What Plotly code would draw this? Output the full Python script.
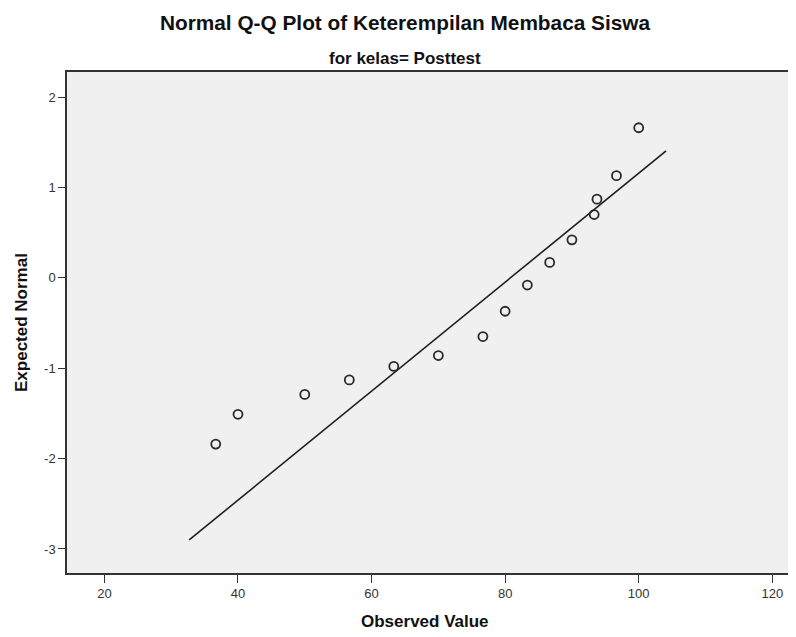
import plotly.graph_objects as go

observed = [36.67, 40.0, 50.0, 56.67, 63.33, 70.0, 76.67, 80.0, 83.33, 86.67, 90.0, 93.33, 93.75, 96.67, 100.0]
expected = [-1.84, -1.51, -1.29, -1.13, -0.98, -0.86, -0.65, -0.37, -0.08, 0.17, 0.42, 0.70, 0.87, 1.13, 1.66]
line_x = [32.7, 104.1]
line_y = [-2.90, 1.405]
x_ticks = [20, 40, 60, 80, 100, 120]
y_ticks = [-3, -2, -1, 0, 1, 2]
y_tick_labels = ["-3", "-2", "-1", "0", "1", "2"]

font = "Liberation Sans, Arial, sans-serif"

fig = go.Figure()
fig.add_trace(go.Scatter(x=line_x, y=line_y, mode="lines",
                         line=dict(color="#1e1e1e", width=1.6), hoverinfo="skip"))
fig.add_trace(go.Scatter(x=observed, y=expected, mode="markers",
                         marker=dict(symbol="circle-open", size=9, color="#2a2a2a",
                                     line=dict(width=1.8, color="#2a2a2a"))))

# page body has an 8px margin, so the figure is sized to fill the rest of the window
fig.update_layout(
    width=788, height=629,
    margin=dict(l=59, r=1, t=64, b=64, autoexpand=False),
    paper_bgcolor="white", plot_bgcolor="#f0f0f0",
    showlegend=False,
    font=dict(family=font, color="#222222"),
)
fig.add_annotation(text="<b>Normal Q-Q Plot of Keterempilan Membaca Siswa</b>",
                   xref="paper", yref="paper", x=0.464, y=1.0998, yanchor="middle",
                   showarrow=False, font=dict(size=20.8, family=font, color="#111"))
fig.add_annotation(text="<b>for kelas= Posttest</b>",
                   xref="paper", yref="paper", x=0.464, y=1.027, yanchor="middle",
                   showarrow=False, font=dict(size=17, family=font, color="#111"))
fig.add_annotation(text="<b>Observed Value</b>",
                   xref="paper", yref="paper", x=0.492, y=-0.0978, yanchor="middle",
                   showarrow=False, font=dict(size=17, family=font, color="#111"))
fig.add_annotation(text="<b>Expected Normal</b>", textangle=-90,
                   xref="paper", yref="paper", x=-0.0625, y=0.5, xanchor="center", yanchor="middle",
                   showarrow=False, font=dict(size=17, family=font, color="#111"))

fig.update_xaxes(range=[14.4, 123.4], tickvals=x_ticks, automargin=False,
                 showgrid=False, zeroline=False, showline=True, mirror=True,
                 linecolor="#333333", linewidth=1.5, ticks="outside", ticklen=8,
                 tickcolor="#333333", tickfont=dict(size=13, family=font, color="#333"))
fig.update_yaxes(range=[-3.266, 2.277], tickvals=y_ticks, ticktext=y_tick_labels, automargin=False,
                 showgrid=False, zeroline=False, showline=True, mirror=True,
                 linecolor="#333333", linewidth=1.5, ticks="outside", ticklen=7,
                 tickcolor="#333333", tickfont=dict(size=13, family=font, color="#333"))
fig.write_html("out.html")
